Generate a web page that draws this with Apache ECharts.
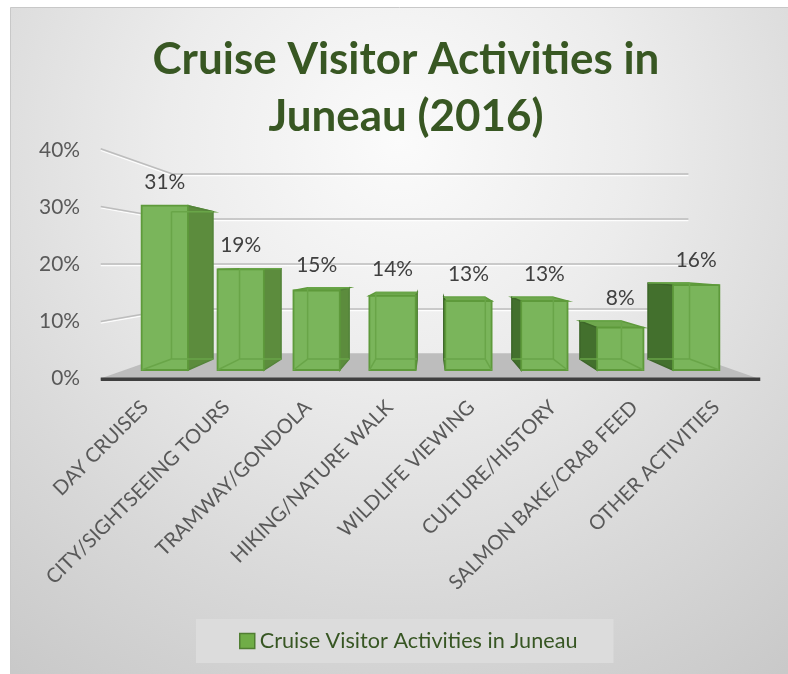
<!DOCTYPE html>
<html><head><meta charset="utf-8">
<script src="https://cdn.jsdelivr.net/npm/echarts@6/dist/echarts.min.js"></script>
<style>html,body{margin:0;padding:0;background:#fff}#c{width:788px;height:674px}</style>
</head><body><div id="c"></div>
<script>
// ---- data ----
const categories = ['DAY CRUISES','CITY/SIGHTSEEING TOURS','TRAMWAY/GONDOLA','HIKING/NATURE WALK','WILDLIFE VIEWING','CULTURE/HISTORY','SALMON BAKE/CRAB FEED','OTHER ACTIVITIES'];
const shares = [0.31,0.19,0.15,0.14,0.13,0.13,0.08,0.16];
const yTicks = [0,0.1,0.2,0.3,0.4];
const seriesName = 'Cruise Visitor Activities in Juneau';
const titleText = 'Cruise Visitor Activities in\nJuneau (2016)';

// ---- style / perspective ----
const FONT = 'Lato';
const HORIZON = 0.2;      // eye level (value)
const KFL = 1.01;         // floor front plane
const KF = 0.93;          // bar front plane
const KB = 0.834;         // bar back plane
const KW = 0.79;          // back wall
const BAR_FRAC = 0.61;

function fit(text, weight, target){
  const c = document.createElement('canvas').getContext('2d');
  c.font = weight + ' 100px ' + FONT;
  return 100 * target / c.measureText(text).width;
}
const titleSize = fit('Cruise Visitor Activities in', 'bold', 507);
const tickSize = fit('40%', 'normal', 41);
const catSize = fit('CITY/SIGHTSEEING TOURS', 'normal', 250);
const legSize = fit(seriesName, 'normal', 318);
const pct = v => Math.round(v * 100) + '%';

function persp(params, api){
  const cs = params.coordSys;
  const vx = cs.x + cs.width / 2;
  const vy = api.coord([0, HORIZON])[1];
  return {cs, P: (x, y, k) => [vx + (x - vx) * k, vy + (y - vy) * k], vx, vy};
}

function renderWall(params, api){
  const {cs, P} = persp(params, api);
  const y = api.coord([0, api.value(1)])[1];
  const L = P(cs.x, y, KFL), C = P(cs.x, y, KW), R = P(cs.x + cs.width, y, KW);
  const sh = p => [p[0], p[1] + 1.6];
  return {type:'group', children:[
    {type:'polyline', shape:{points:[sh(L), sh(C), sh(R)]}, style:{stroke:'rgba(255,255,255,0.9)', lineWidth:1.2, fill:null}},
    {type:'polyline', shape:{points:[L, C, R]}, style:{stroke:'#bdbdbd', lineWidth:1.6, fill:null}}
  ]};
}

function renderFloor(params, api){
  const {cs, P} = persp(params, api);
  const y = api.coord([0, 0])[1];
  const fl = P(cs.x, y, KFL), fr = P(cs.x + cs.width, y, KFL);
  const br = P(cs.x + cs.width, y, KW), bl = P(cs.x, y, KW);
  return {type:'group', children:[
    {type:'polygon', shape:{points:[fl, fr, br, bl]}, style:{fill:'#bdbdbd'}},
    {type:'line', shape:{x1:fl[0], y1:fl[1], x2:fr[0], y2:fr[1]}, style:{stroke:'#3f3f3f', lineWidth:3.5}}
  ]};
}

function renderBar(params, api){
  const {P, vx} = persp(params, api);
  const i = api.value(0), v = api.value(1);
  const base = api.coord([i, 0]), top = api.coord([i, v]);
  const half = api.size([1, 0])[0] * BAR_FRAC / 2;
  const xl = base[0] - half, xr = base[0] + half;
  const fTL = P(xl, top[1], KF), fTR = P(xr, top[1], KF), fBL = P(xl, base[1], KF), fBR = P(xr, base[1], KF);
  const bTL = P(xl, top[1], KB), bTR = P(xr, top[1], KB), bBL = P(xl, base[1], KB), bBR = P(xr, base[1], KB);
  const rightSide = base[0] < vx;
  const side = rightSide ? [fTR, bTR, bBR, fBR] : [fTL, bTL, bBL, fBL];
  const hidden = rightSide
    ? [[bTL, bBL], [bBL, bBR], [fBL, bBL], [bTL, bTR]]
    : [[bTR, bBR], [bBL, bBR], [fBR, bBR], [bTL, bTR]];
  const edgeCol = '#5e9a3b';
  const children = [
    {type:'polygon', shape:{points:[fTL, fTR, bTR, bTL]}, style:{fill:'#6fa84e', stroke:edgeCol, lineWidth:1.5}},
    {type:'polygon', shape:{points:side}, style:{fill: rightSide ? '#5c8c3d' : '#43702d', stroke: rightSide ? '#54843a' : '#3d6629', lineWidth:1.5}},
    {type:'polygon', shape:{points:[fTL, fTR, fBR, fBL]}, style:{fill:'#7ab55b', stroke:edgeCol, lineWidth:1.8}}
  ];
  hidden.forEach(h => children.push({type:'line', shape:{x1:h[0][0], y1:h[0][1], x2:h[1][0], y2:h[1][1]}, style:{stroke:'#69a548', lineWidth:1.5}}));
  children.push({type:'text', x:(fTL[0] + fTR[0]) / 2, y:Math.min(fTL[1], bTL[1]) - 23,
    style:{text:pct(v), fill:'#404040', fontSize:tickSize, fontFamily:FONT, align:'center', verticalAlign:'middle'}});
  return {type:'group', children};
}

const chart = echarts.init(document.getElementById('c'), null, {renderer:'canvas'});
chart.setOption({
  animation:false,
  graphic:[
    {type:'rect', z:-10, shape:{x:10.5, y:7.5, width:778, height:667},
     style:{stroke:'#c8c8c8', lineWidth:1,
       fill:new echarts.graphic.RadialGradient(0.5, 0.2, 1, [
         {offset:0, color:'#fbfbfb'}, {offset:0.35, color:'#ececec'},
         {offset:0.7, color:'#d8d8d8'}, {offset:1, color:'#c8c8c8'}])}},
    {type:'text', z:5, x:406, y:31, style:{text:titleText, fill:'#385723', fontSize:titleSize, fontWeight:'bold', fontFamily:FONT, align:'center', verticalAlign:'top', lineHeight:57}}
  ],
  grid:{left:104, right:31, top:150, bottom:296, outerBoundsMode:'none'},
  legend:{data:[seriesName], left:196, top:619, padding:[11,36,11,43], backgroundColor:'#dcdcdc',
    itemWidth:15, itemHeight:15, icon:'rect',
    itemStyle:{color:'#70ad47', borderColor:'#507e32', borderWidth:1.5},
    textStyle:{color:'#375623', fontSize:legSize, fontFamily:FONT}},
  xAxis:{type:'category', data:categories, axisLine:{show:false}, axisTick:{show:false},
    axisLabel:{rotate:45, interval:0, margin:26, color:'#595959', fontSize:catSize, fontFamily:FONT}},
  yAxis:{type:'value', min:0, max:0.4, interval:0.1, splitLine:{show:false}, axisLine:{show:false}, axisTick:{show:false},
    axisLabel:{formatter:pct, margin:24, color:'#595959', fontSize:tickSize, fontFamily:FONT}},
  series:[
    {type:'custom', name:'wall', silent:true, z:1, renderItem:renderWall, data:yTicks.map(t => [0, t])},
    {type:'custom', name:'floor', silent:true, z:2, renderItem:renderFloor, data:[[0, 0]]},
    {type:'custom', name:seriesName, z:3, renderItem:renderBar, itemStyle:{color:'#70ad47'},
     data:shares.map((s, i) => [i, s])}
  ]
});
</script></body></html>
